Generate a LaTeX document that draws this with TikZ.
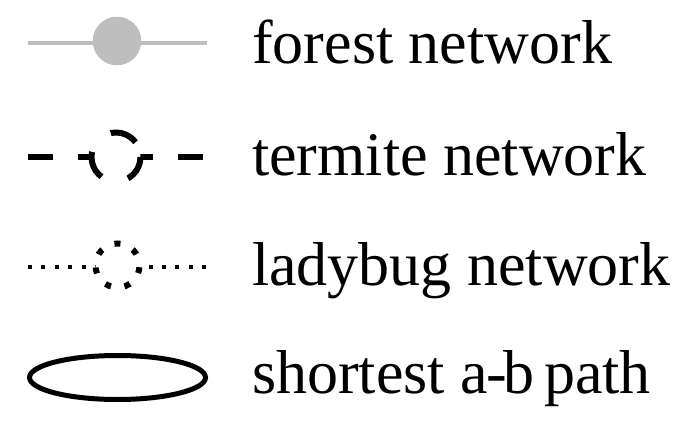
\documentclass[tikz,border=0pt]{standalone}
\usepackage{fontspec}
\setmainfont{Liberation Serif}
\definecolor{forestgray}{RGB}{190,190,190}
\tikzset{
  legendtext/.style={anchor=base west, inner sep=0pt, font=\fontsize{62}{70}\selectfont},
  forestline/.style={draw=forestgray, line width=4pt},
  forestdot/.style={circle, fill=forestgray, inner sep=0pt, minimum size=48.6pt},
  termiteline/.style={draw=black, line width=6pt, dash pattern=on 25pt off 25pt},
  termitering/.style={circle, draw=black, fill=white, inner sep=0pt, minimum size=49pt, line width=6pt, dash pattern=on 28pt off 28pt, dash phase=40.2pt},
  ladyline/.style={draw=black, line width=4pt, dash pattern=on 4pt off 9.4pt},
  ladyring/.style={circle, draw=black, fill=white, inner sep=0pt, minimum size=44pt, line width=6pt, dash pattern=on 6pt off 13.75pt, dash phase=7.93pt},
  pathring/.style={ellipse, draw=black, line width=5pt, inner sep=0pt, minimum width=176pt, minimum height=44pt}
}
\usetikzlibrary{shapes.geometric}
\begin{document}
\begin{tikzpicture}[x=1pt,y=-1pt]
\useasboundingbox (0,0) rectangle (686,431);
% forest network
\coordinate (fl) at (28,42.7);
\coordinate (fr) at (207,42.7);
\draw[forestline] (fl) -- (fr);
\node[forestdot] (fd) at (117,41) {};
\node[legendtext] (ft) at (252,63) {forest network};
% termite network
\coordinate (tl) at (28,157);
\coordinate (tr) at (203,157);
\draw[termiteline] (tl) -- (tr);
\node[termitering] (td) at (116,157) {};
\node[legendtext] (tt) at (252,175) {termite network};
% ladybug network
\coordinate (ll) at (28,266.5);
\coordinate (lr) at (206.5,266.5);
\draw[ladyline] (ll) -- (lr);
\node[ladyring] (ld) at (117.5,265.5) {};
\node[legendtext] (lt) at (252,285) {ladybug network};
% shortest path
\node[pathring] (pe) at (117.5,377.5) {};
\node[legendtext] (pt) at (252,393) {shortest a\kern-2pt-\kern-3pt b\hspace{-6pt} path};
\end{tikzpicture}
\end{document}
